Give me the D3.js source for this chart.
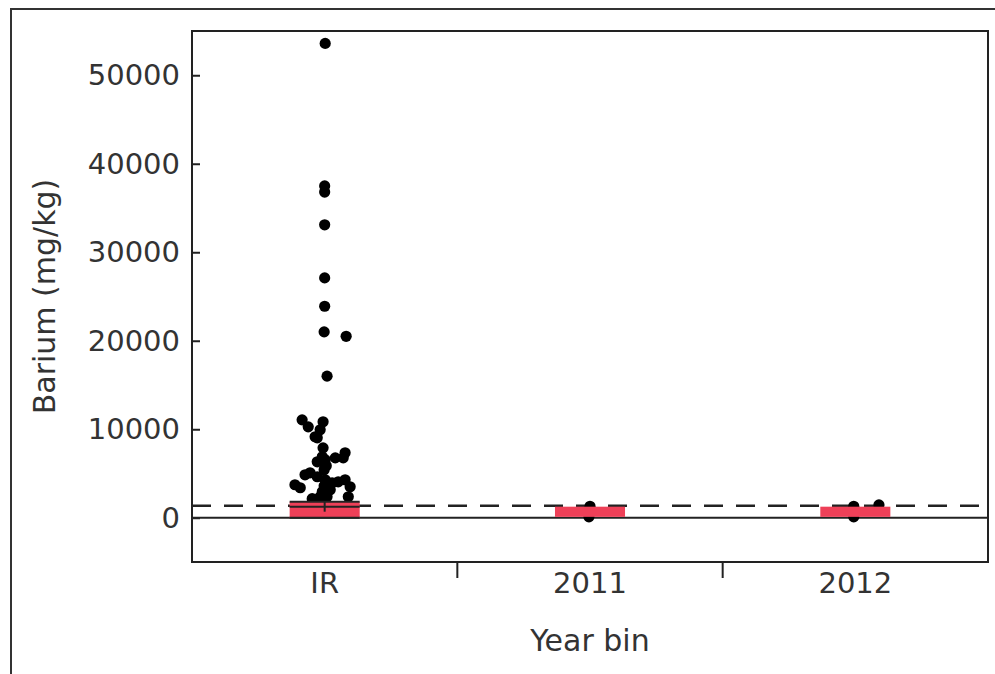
<!DOCTYPE html>
<html>
<head>
  <title>Barium by year bin</title>
  <script type="text/javascript" src="https://d3js.org/d3.v7.min.js"></script>
  <style type="text/css">
    body {
      margin: 0px;
      background: #fff;
    }
    text {
      font-family: "DejaVu Sans", sans-serif;
      fill: #333;
    }
  </style>
</head>
<body>
  <svg width="995" height="674"></svg>
  <script type="text/javascript">
    // categories and tick values
    var categories = ["IR", "2011", "2012"];
    var yTicks = [0, 10000, 20000, 30000, 40000, 50000];

    // IR points: value (mg/kg) and horizontal jitter (fraction of band)
    var irValues = [53600, 37500, 36800, 33100, 27100, 23900, 21000, 20500, 16000,
      11060, 10270, 9150, 10840, 9935, 9030, 7900, 6890, 7340, 6770,
      6320, 6550, 6770, 5080, 4850, 3730, 3390, 4630, 4290, 3950, 4060,
      4290, 3500, 2370, 2935, 2370, 2370, 5420, 5870, 3600, 3160, 2030, 2150];
    var irJitter = [0.002, 0, 0, 0, 0, 0, -0.002, 0.081, 0.009,
      -0.085, -0.062, -0.036, -0.006, -0.017, -0.028, -0.006, -0.009, 0.077, 0.070,
      -0.028, 0.002, 0.040, -0.055, -0.074, -0.112, -0.092, -0.028, 0.002, 0.028, 0.051,
      0.077, 0.096, 0.089, -0.009, -0.017, 0.009, -0.002, 0.006, -0.002, 0.021, -0.006, -0.047];

    var y2011Values = [1300, 100];
    var y2011Jitter = [0, -0.004];
    var y2012Values = [1300, 1450, 100];
    var y2012Jitter = [-0.006, 0.089, -0.006];

    // box summaries per category
    var boxQ1 = [0, 100, 100];
    var boxMedian = [1250, 700, 700];
    var boxQ3 = [1800, 1250, 1250];

    var refLine = 1350;

    var svg = d3.select("svg");
    var margin = {left: 192, right: 7, top: 31, bottom: 112};
    var W = 995, H = 674;

    var x = d3.scaleBand().domain(categories).range([margin.left, W - margin.right]);
    var y = d3.scaleLinear().domain([-5000, 55000]).range([H - margin.bottom, margin.top]);

    // outer frame (left and top edges only)
    svg.append("path")
      .attr("d", "M11," + H + "V9H" + W)
      .attr("fill", "none")
      .attr("stroke", "#333")
      .attr("stroke-width", 2);

    var points = [];
    irValues.forEach(function(v, i){ points.push({g: "IR", v: v, j: irJitter[i]}); });
    y2011Values.forEach(function(v, i){ points.push({g: "2011", v: v, j: y2011Jitter[i]}); });
    y2012Values.forEach(function(v, i){ points.push({g: "2012", v: v, j: y2012Jitter[i]}); });

    var boxes = categories.map(function(c, i){
      return {g: c, q1: boxQ1[i], med: boxMedian[i], q3: boxQ3[i]};
    });

    // reference lines
    svg.append("line")
      .attr("x1", x.range()[0]).attr("x2", x.range()[1])
      .attr("y1", y(refLine)).attr("y2", y(refLine))
      .attr("stroke", "#222").attr("stroke-width", 2.5)
      .attr("stroke-dasharray", "19,13");
    svg.append("line")
      .attr("x1", x.range()[0]).attr("x2", x.range()[1])
      .attr("y1", y(0)).attr("y2", y(0))
      .attr("stroke", "#222").attr("stroke-width", 2);

    // points
    svg.append("g").selectAll("circle")
      .data(points)
      .join("circle")
      .attr("cx", function(d){ return x(d.g) + x.bandwidth() * (0.5 + d.j); })
      .attr("cy", function(d){ return y(d.v); })
      .attr("r", 5.6)
      .attr("fill", "#000");

    // boxes
    var bw = x.bandwidth() * 0.264;
    var bg = svg.append("g").selectAll("g")
      .data(boxes)
      .join("g");
    bg.append("rect")
      .attr("x", function(d){ return x(d.g) + x.bandwidth() / 2 - bw / 2; })
      .attr("y", function(d){ return y(d.q3); })
      .attr("width", bw)
      .attr("height", function(d){ return y(d.q1) - y(d.q3); })
      .attr("fill", "#ee4058");
    // the IR box shows its quartile and median lines
    var ir = bg.filter(function(d){ return d.g === "IR"; });
    ir.selectAll("line")
      .data(function(d){ return [d.q1, d.med, d.q3].map(function(v){ return {g: d.g, v: v}; }); })
      .join("line")
      .attr("x1", function(d){ return x(d.g) + x.bandwidth() / 2 - bw / 2; })
      .attr("x2", function(d){ return x(d.g) + x.bandwidth() / 2 + bw / 2; })
      .attr("y1", function(d){ return y(d.v); })
      .attr("y2", function(d){ return y(d.v); })
      .attr("stroke", "#222").attr("stroke-width", 2);
    ir.append("line")
      .attr("x1", function(d){ return x(d.g) + x.bandwidth() / 2; })
      .attr("x2", function(d){ return x(d.g) + x.bandwidth() / 2; })
      .attr("y1", function(d){ return y(d.q3); })
      .attr("y2", function(d){ return y(d.med) + 5; })
      .attr("stroke", "#222").attr("stroke-width", 2);

    // plot frame
    svg.append("rect")
      .attr("x", x.range()[0]).attr("y", margin.top)
      .attr("width", x.range()[1] - x.range()[0])
      .attr("height", H - margin.bottom - margin.top)
      .attr("fill", "none")
      .attr("stroke", "#222").attr("stroke-width", 2);

    // y axis
    var yAxis = svg.append("g")
      .attr("transform", "translate(" + margin.left + ",0)")
      .call(d3.axisLeft(y).tickValues(yTicks).tickFormat(d3.format("d")).tickSizeInner(-8).tickSizeOuter(0).tickPadding(12));
    yAxis.select(".domain").remove();
    yAxis.selectAll("line").attr("stroke", "#222").attr("stroke-width", 2);
    yAxis.selectAll("text").style("font-size", "29px").attr("fill", "#333");

    // x axis labels at band centres, ticks at band edges
    var xAxis = svg.append("g")
      .attr("transform", "translate(0," + (H - margin.bottom) + ")")
      .call(d3.axisBottom(x).tickSize(0).tickPadding(10));
    xAxis.select(".domain").remove();
    xAxis.selectAll("text").style("font-size", "29px").attr("fill", "#333");
    svg.append("g").selectAll("line")
      .data(categories.slice(1))
      .join("line")
      .attr("x1", function(d){ return x(d); })
      .attr("x2", function(d){ return x(d); })
      .attr("y1", H - margin.bottom)
      .attr("y2", H - margin.bottom + 16)
      .attr("stroke", "#222").attr("stroke-width", 2);

    // axis titles
    svg.append("text")
      .attr("x", (x.range()[0] + x.range()[1]) / 2)
      .attr("y", 651)
      .attr("text-anchor", "middle")
      .style("font-size", "30px")
      .text("Year bin");
    svg.append("text")
      .attr("transform", "translate(55," + ((margin.top + H - margin.bottom) / 2) + ") rotate(-90)")
      .attr("text-anchor", "middle")
      .style("font-size", "30px")
      .text("Barium (mg/kg)");
  </script>
</body>
</html>
